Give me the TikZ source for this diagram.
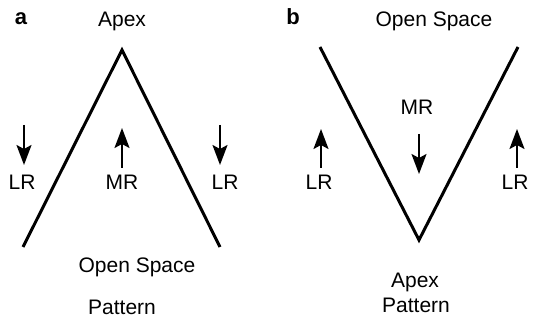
\documentclass[tikz,border=0pt]{standalone}
\usepackage{fontspec}
\setmainfont{Liberation Sans}
\usetikzlibrary{arrows.meta}
\begin{document}
\begin{tikzpicture}[x=1pt,y=-1pt,
  lbl/.style={anchor=base,inner sep=0pt,font=\fontsize{21}{24}\selectfont},
  panel/.style={anchor=base,inner sep=0pt,font=\fontsize{22}{26}\selectfont\bfseries},
  wall/.style={line width=3pt,line join=miter},
  flow/.style={line width=2pt,arrows={-Stealth[length=20pt,width=15pt,inset=4pt]}}]
\useasboundingbox (0,0) rectangle (536,320);
% panel a
\node[panel] (pa) at (21,25) {a};
\node[lbl] (apexa) at (122,27) {Apex};
\node[lbl] (opena) at (137,273) {Open Space};
\node[lbl] (pata) at (122,315) {Pattern};
\node[lbl] (lra1) at (22,190) {LR};
\node[lbl] (mra) at (122,190) {MR};
\node[lbl] (lra2) at (225,190) {LR};
\coordinate (al) at (23,247);
\coordinate (at) at (122,50);
\coordinate (ar) at (220,247);
\draw[wall] (al) -- (at) -- (ar);
\coordinate (a1s) at (24,125); \coordinate (a1e) at (24,165);
\coordinate (a2s) at (122,168); \coordinate (a2e) at (122,128);
\coordinate (a3s) at (220,125); \coordinate (a3e) at (220,165);
\draw[flow] (a1s) -- (a1e);
\draw[flow] (a2s) -- (a2e);
\draw[flow] (a3s) -- (a3e);
% panel b
\node[panel] (pb) at (293,25) {b};
\node[lbl] (openb) at (434,27) {Open Space};
\node[lbl] (mrb) at (417,115) {MR};
\node[lbl] (lrb1) at (319,190) {LR};
\node[lbl] (lrb2) at (515,190) {LR};
\node[lbl] (apexb) at (415,288) {Apex};
\node[lbl] (patb) at (416,313) {Pattern};
\coordinate (bl) at (320,47);
\coordinate (bb) at (419,240);
\coordinate (br) at (518,47);
\draw[wall] (bl) -- (bb) -- (br);
\coordinate (b1s) at (321,168); \coordinate (b1e) at (321,129);
\coordinate (b2s) at (419,134); \coordinate (b2e) at (419,174);
\coordinate (b3s) at (517,168); \coordinate (b3e) at (517,129);
\draw[flow] (b1s) -- (b1e);
\draw[flow] (b2s) -- (b2e);
\draw[flow] (b3s) -- (b3e);
\end{tikzpicture}
\end{document}
